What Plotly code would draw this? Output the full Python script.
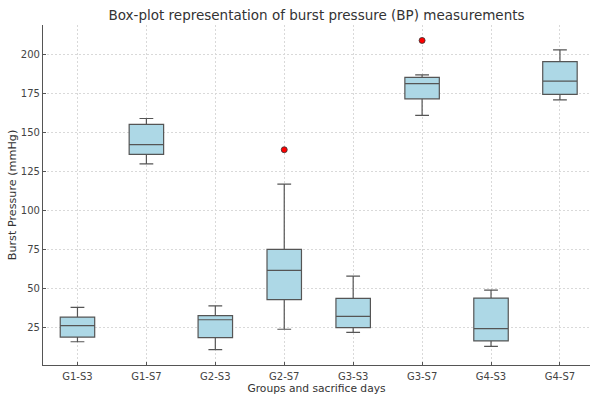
import plotly.graph_objects as go

categories = ["G1-S3", "G1-S7", "G2-S3", "G2-S7", "G3-S3", "G3-S7", "G4-S3", "G4-S7"]
lower_whisker = [16, 130, 11, 24, 22, 161, 13, 171]
q1_vals = [19, 136, 18.6, 43, 25, 171.6, 16.5, 174.4]
median_vals = [26.3, 142.3, 30.1, 61.7, 32.2, 181.4, 24.4, 183]
q3_vals = [31.8, 155.3, 32.7, 75.2, 43.8, 185.4, 44, 195.5]
upper_whisker = [38, 159, 39, 117, 58, 187, 49, 203]
outlier_cats = ["G2-S7", "G3-S7"]
outlier_vals = [139, 209]

fig = go.Figure()
for i, c in enumerate(categories):
    fig.add_trace(go.Box(
        x=[c], q1=[q1_vals[i]], median=[median_vals[i]], q3=[q3_vals[i]],
        lowerfence=[lower_whisker[i]], upperfence=[upper_whisker[i]],
        fillcolor="#ADD8E6", line=dict(color="#555555", width=1.2),
        width=0.5, whiskerwidth=0.4, showlegend=False, boxpoints=False,
        hoverinfo="skip"))

fig.add_trace(go.Scatter(
    x=outlier_cats, y=outlier_vals, mode="markers",
    marker=dict(color="red", size=6, line=dict(color="#333333", width=0.8)),
    showlegend=False))

axis_common = dict(
    showline=True, linecolor="#555555", linewidth=1.2,
    ticks="inside", ticklen=3, tickcolor="#555555",
    showgrid=True, gridcolor="#d9d9d9", griddash="2px,2px", gridwidth=0.7,
    zeroline=False, tickfont=dict(size=10, color="#444444"), automargin=False,
)

fig.update_layout(
    width=590, height=396,
    margin=dict(l=43, r=0, t=25, b=31),
    paper_bgcolor="white", plot_bgcolor="white",
    font=dict(family="DejaVu Sans", color="#333333"),
    title=dict(text="Box-plot representation of burst pressure (BP) measurements",
               x=(43 + 590) / 2 / 590, xanchor="center", y=0.962, yanchor="middle",
               font=dict(size=13.5, color="#333333")),
    xaxis=dict(axis_common, type="category", categoryorder="array", categoryarray=categories,
               range=[-0.5, 7.436], ticklabelstandoff=2,
               title=dict(text="Groups and sacrifice days", font=dict(size=10.7, color="#333333"), standoff=2)),
    yaxis=dict(axis_common, range=[1.1, 218.9], tickvals=[25, 50, 75, 100, 125, 150, 175, 200],
               title=dict(text="Burst Pressure (mmHg)", font=dict(size=11.2, color="#333333"), standoff=1)),
)

fig.write_html("out.html", config={"displayModeBar": False},
               post_script="document.body.style.margin='0';document.body.style.overflow='hidden';")
